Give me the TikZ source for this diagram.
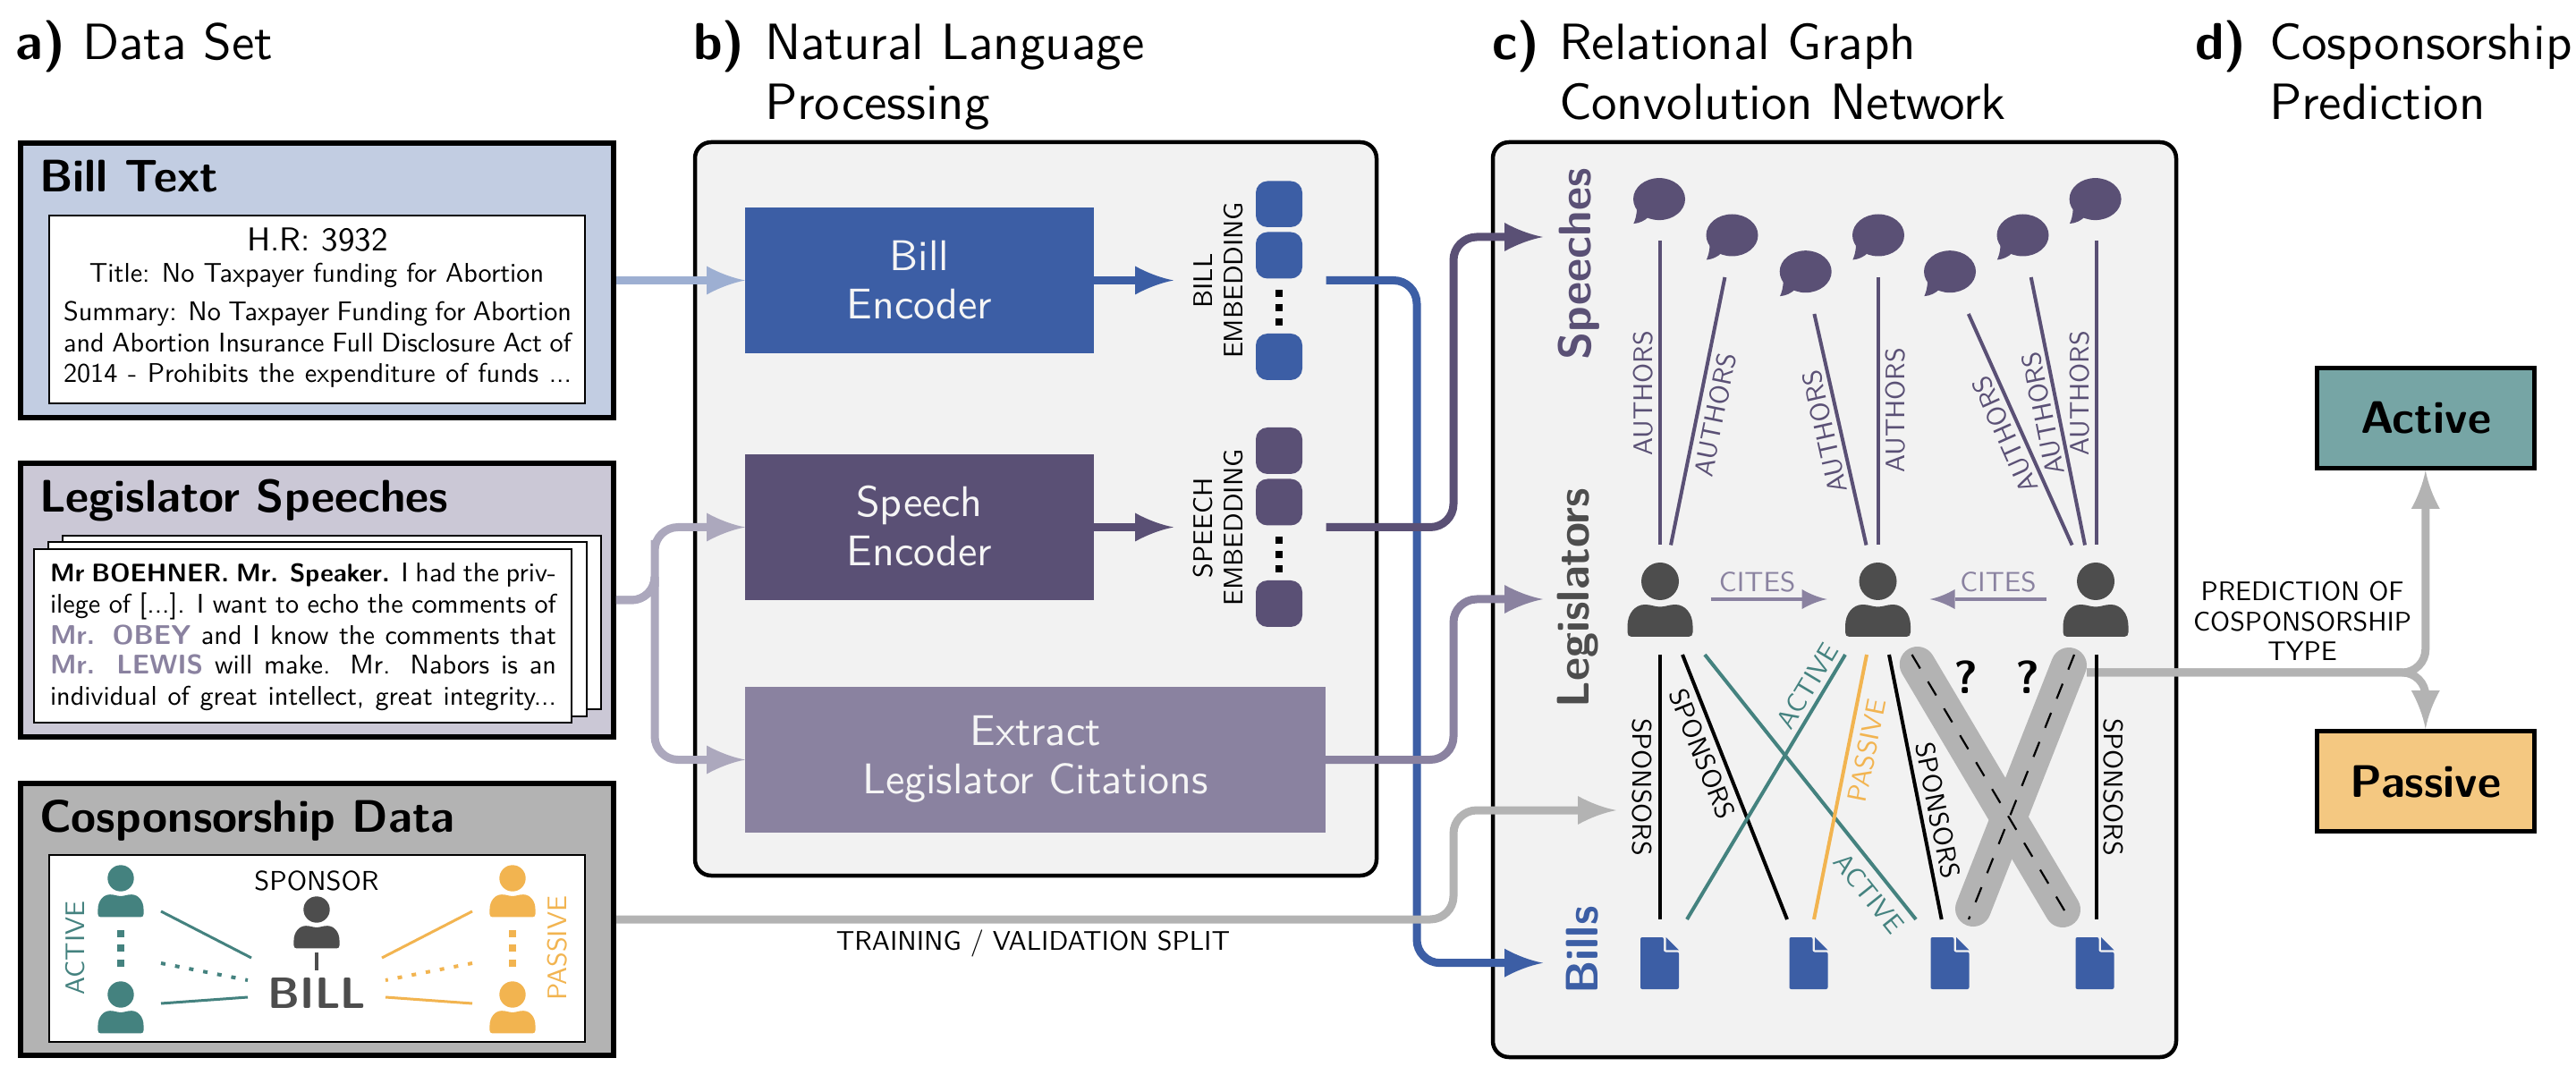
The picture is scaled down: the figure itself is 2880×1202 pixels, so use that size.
\documentclass[tikz,border=0pt]{standalone}
\usepackage{fontspec}
\setsansfont{lmsans10-regular.otf}[BoldFont=lmsans10-bold.otf]
\usetikzlibrary{arrows.meta}
\renewcommand{\familydefault}{\sfdefault}
\definecolor{cblue}{HTML}{3C5EA5}
\definecolor{cpurple}{HTML}{5A5075}
\definecolor{clav}{HTML}{8A82A0}
\definecolor{cgrey}{HTML}{B3B3B3}
\definecolor{cdark}{HTML}{4D4D4D}
\definecolor{cteal}{HTML}{44827F}
\definecolor{corange}{HTML}{F2B450}
\definecolor{cbillbg}{HTML}{C2CDE2}
\definecolor{cspeechbg}{HTML}{CBC8D6}
\definecolor{cpanel}{HTML}{F2F2F2}
\definecolor{carrowblue}{HTML}{9DAFD2}
\definecolor{carrowlav}{HTML}{ACA8BD}
\definecolor{cactivebg}{HTML}{76A5A5}
\definecolor{cpassivebg}{HTML}{F4C881}
\newcommand{\fpx}[1]{\fontsize{#1}{#1}\selectfont}
\newcommand{\declhead}[3]{%
\pgfdeclarearrow{
  name=#1,
  setup code={
    \pgfarrowssettipend{0pt}
    \pgfarrowssetlineend{-#2pt+2pt}
    \pgfarrowssetvisualbackend{-#2pt}
    \pgfarrowssetbackend{-#2pt}
    \pgfarrowshullpoint{0pt}{0pt}
    \pgfarrowshullpoint{-#2pt}{#3pt}
    \pgfarrowshullpoint{-#2pt}{-#3pt}
  },
  drawing code={
    \pgfsetdash{}{0pt}
    \pgfpathmoveto{\pgfqpoint{0pt}{0pt}}
    \pgfpathcurveto{\pgfpoint{-0.35*#2pt}{0.18*#3pt}}{\pgfpoint{-0.7*#2pt}{0.55*#3pt}}{\pgfpoint{-#2pt}{#3pt}}
    \pgfpathlineto{\pgfpoint{-#2pt}{-#3pt}}
    \pgfpathcurveto{\pgfpoint{-0.7*#2pt}{-0.55*#3pt}}{\pgfpoint{-0.35*#2pt}{-0.18*#3pt}}{\pgfqpoint{0pt}{0pt}}
    \pgfpathclose
    \pgfusepathqfill
  }
}}
\declhead{BigHead}{21.5}{8}
\declhead{SmallHead}{14}{5.5}
\tikzset{
  every node/.style={inner sep=0pt,outer sep=0pt},
  hdr/.style={font=\fpx{28.5},anchor=base west,align=left},
  hdrb/.style={font=\fpx{29}\bfseries,anchor=base west},
  outerbox/.style={draw=black,line width=2.75pt},
  innerbox/.style={draw=black,fill=white,line width=1.25pt},
  panelbox/.style={draw=black,fill=cpanel,line width=2.25pt,rounded corners=9pt},
  encbox/.style={fill=#1},
  boxtitle/.style={font=\fpx{25.5}\bfseries,anchor=base west},
  enctxt/.style={font=\fpx{24},text=white!96!black,anchor=base},
  bodytxt/.style={font=\fpx{15.1},anchor=base west},
  smalllab/.style={font=\fpx{15}},
  rowlab/.style={font=\fpx{25.5}\bfseries,rotate=90,anchor=base},
  flow/.style={draw=#1,line width=4.5pt,-{BigHead[]},rounded corners=13pt},
  plainflow/.style={draw=#1,line width=4.5pt,rounded corners=13pt},
  author/.style={draw=cpurple,line width=2pt},
  sponsor/.style={draw=black,line width=2pt},
  activeln/.style={draw=cteal,line width=2pt},
  passiveln/.style={draw=corange,line width=2pt},
  dashln/.style={draw=black,line width=1.1pt,dash pattern=on 9pt off 8.5pt},
  thickln/.style={draw=cgrey,line width=20pt,line cap=round},
  thinln/.style={draw=#1,line width=1.5pt},
  dotln/.style={draw=#1,line width=2pt,dash pattern=on 2.5pt off 5.5pt},
  citeln/.style={draw=clav,line width=2.25pt,-{SmallHead[]}},
  embed/.style={fill=#1,rounded corners=6.5pt},
}
\newcommand{\rectnode}[6]{%
  \pgfmathsetmacro\rw{(#5-#3)*0.5}\pgfmathsetmacro\rh{(#6-#4)*0.5}%
  \pgfmathsetmacro\rcx{(#3+#5)/2}\pgfmathsetmacro\rcy{(#4+#6)/2}%
  \node[#2,minimum width=\rw pt,minimum height=\rh pt] (#1) at (\rcx,\rcy) {};}
\newcommand{\personicon}[4]{%
  \begin{scope}[shift={(#1,#2)},scale=#3]
  \fill[#4] (0,0) circle [radius=21];
  \fill[#4] (-32,62) .. controls (-35,62) and (-36.5,60) .. (-36.5,57) -- (-36.5,50)
    .. controls (-36.5,36) and (-28,26) .. (-17,26)
    .. controls (-10,26) and (-6,28.5) .. (0,28.5)
    .. controls (6,28.5) and (10,26) .. (17,26)
    .. controls (28,26) and (36.5,36) .. (36.5,50) -- (36.5,57)
    .. controls (36.5,60) and (35,62) .. (32,62) -- cycle;
  \end{scope}}
\newcommand{\bubble}[2]{%
  \begin{scope}[shift={(#1,#2)}]
  \fill[cpurple] (0,0) ellipse [x radius=29,y radius=23.5];
  \fill[cpurple] (-25,10) .. controls (-25,18) and (-27,24) .. (-28.7,27.5)
     .. controls (-22,27) and (-16,24) .. (-12,20) -- cycle;
  \end{scope}}
\newcommand{\docicon}[2]{%
  \begin{scope}[shift={(#1,#2)}]
  \fill[cblue,rounded corners=1pt] (0,0) -- (26,0) -- (26,16.5) -- (43,16.5) -- (43,58) -- (0,58) -- cycle;
  \fill[cblue] (28.5,0) -- (43,14.3) -- (28.5,14.3) -- cycle;
  \end{scope}}
\newcommand{\sqdot}[3]{\fill[#3] (#1-4,#2-4) rectangle (#1+4,#2+4);}
\newcommand{\jline}[5]{\node[bodytxt] (#1) at (#2,#3) {\makebox[#4pt][s]{#5}};}
\newcommand{\link}[6]{%
  \coordinate (#1-a) at (#3,#4); \coordinate (#1-b) at (#5,#6);
  \draw[#2] (#1-a) -- (#1-b);}
\begin{document}
\begin{tikzpicture}[x=0.5pt,y=-0.5pt]
\useasboundingbox (0,0) rectangle (2880,1202);
% headers
\node[hdrb] (ha) at (18,66.5) {a)};
\node[hdr] (hat) at (92,66.5) {Data Set};
\node[hdrb] (hb) at (775,66.5) {b)};
\node[hdr] (hbt) at (855,66.5) {Natural Language};
\node[hdr] (hbt2) at (855,134) {Processing};
\node[hdrb] (hc) at (1668,66.5) {c)};
\node[hdr] (hct) at (1743,66.5) {Relational Graph};
\node[hdr] (hct2) at (1743,134) {Convolution Network};
\node[hdrb] (hd) at (2454,66.5) {d)};
\node[hdr] (hdt) at (2537,66.5) {Cosponsorship};
\node[hdr] (hdt2) at (2537,134) {Prediction};
% data set boxes
\rectnode{billbox}{outerbox,fill=cbillbg}{23}{160}{686}{467}
\node[boxtitle] (billtitle) at (44,215) {Bill Text};
\rectnode{billinner}{innerbox}{55}{241}{654}{451}
\node[font=\fpx{18.5},anchor=base] (hr) at (355,281) {H.R: 3932};
\node[bodytxt,anchor=base] (billname) at (354,316) {Title: No Taxpayer funding for Abortion};
\jline{sum1}{71}{359}{284}{Summary: No Taxpayer Funding for Abortion}
\jline{sum2}{71}{393.4}{284}{and Abortion Insurance Full Disclosure Act of}
\jline{sum3}{71}{428}{284}{2014 - Prohibits the expenditure of funds ...}
\rectnode{speechbox}{outerbox,fill=cspeechbg}{23}{518}{686}{824}
\node[boxtitle] (speechtitle) at (44,573) {Legislator Speeches};
\rectnode{stack3}{innerbox}{70}{599}{672}{793}
\rectnode{stack2}{innerbox}{54}{606}{656}{801}
\rectnode{stack1}{innerbox}{38}{614}{639}{808}
\jline{sp1}{56}{651}{283}{{\fpx{14.2}\bfseries Mr BOEHNER. Mr. Speaker.} I had the priv-}
\jline{sp2}{56}{686}{283}{ilege of [...]. I want to echo the comments of}
\jline{sp3}{56}{720}{283}{\textcolor{clav}{\textbf{Mr. OBEY}} and I know the comments that}
\jline{sp4}{56}{754}{283}{\textcolor{clav}{\textbf{Mr. LEWIS}} will make. Mr. Nabors is an}
\jline{sp5}{56}{788}{283}{individual of great intellect, great integrity...}
\rectnode{cosbox}{outerbox,fill=cgrey}{23}{876}{686}{1180}
\node[boxtitle] (costitle) at (44,930) {Cosponsorship Data};
\rectnode{cosinner}{innerbox}{55}{956}{654}{1165}
\personicon{135}{982}{0.7}{cteal}
\personicon{135}{1112}{0.7}{cteal}
\personicon{573}{982}{0.7}{corange}
\personicon{573}{1112}{0.7}{corange}
\personicon{354}{1017}{0.7}{cdark}
\sqdot{135}{1044}{cteal}\sqdot{135}{1060}{cteal}\sqdot{135}{1077}{cteal}
\sqdot{573}{1044}{corange}\sqdot{573}{1060}{corange}\sqdot{573}{1077}{corange}
\node[font=\fpx{15.2},anchor=base] (sponsorlab) at (354,995) {SPONSOR};
\node[font=\fpx{24.5}\bfseries,text=cdark,anchor=base] (billword) at (354.5,1127) {BILL};
\node[smalllab,text=cteal,rotate=90] (activelab) at (84,1060) {ACTIVE};
\node[smalllab,text=corange,rotate=90] (passivelab) at (623,1060) {PASSIVE};
\link{sb}{draw=cdark,line width=2pt}{354}{1065}{354}{1085}
\link{ta}{thinln=cteal}{180}{1019}{281}{1071}
\link{tb}{dotln=cteal}{180}{1077}{277}{1096}
\link{tc}{thinln=cteal}{180}{1122}{277}{1115}
\link{oa}{thinln=corange}{528}{1019}{427}{1071}
\link{ob}{dotln=corange}{528}{1077}{431}{1096}
\link{oc}{thinln=corange}{528}{1122}{431}{1115}
% panel b
\rectnode{panelb}{panelbox}{777}{159}{1539}{979}
\rectnode{billenc}{encbox=cblue}{833}{232}{1223}{395}
\rectnode{speechenc}{encbox=cpurple}{833}{508}{1223}{671}
\rectnode{extract}{encbox=clav}{833}{768}{1482}{931}
\node[enctxt] (bl1) at (1028,303) {Bill};
\node[enctxt] (bl2) at (1028,357) {Encoder};
\node[enctxt] (sl1) at (1028,578) {Speech};
\node[enctxt] (sl2) at (1028,633) {Encoder};
\node[enctxt] (el1) at (1157.5,833) {Extract};
\node[enctxt] (el2) at (1157.5,887) {Legislator Citations};
\node[smalllab,rotate=90] (be1) at (1345,314) {BILL};
\node[smalllab,rotate=90] (be2) at (1379,313.5) {EMBEDDING};
\node[smalllab,rotate=90] (se1) at (1345,590.5) {SPEECH};
\node[smalllab,rotate=90] (se2) at (1379,590) {EMBEDDING};
\rectnode{be-a}{embed=cblue}{1404}{202.5}{1456}{254}
\rectnode{be-b}{embed=cblue}{1404}{259.5}{1456}{311.5}
\rectnode{be-c}{embed=cblue}{1404}{373}{1456}{425}
\rectnode{se-a}{embed=cpurple}{1404}{478}{1456}{530}
\rectnode{se-b}{embed=cpurple}{1404}{535.5}{1456}{587.5}
\rectnode{se-c}{embed=cpurple}{1404}{649}{1456}{701}
\sqdot{1430}{328}{black}\sqdot{1430}{344}{black}\sqdot{1430}{360}{black}
\sqdot{1430}{604}{black}\sqdot{1430}{620}{black}\sqdot{1430}{636}{black}
% panel c
\rectnode{panelc}{panelbox}{1669}{159}{2433}{1182}
\node[rowlab,text=cpurple] (rowsp) at (1778,295.5) {Speeches};
\node[rowlab,text=cdark] (rowlg) at (1776,668.5) {Legislators};
\node[rowlab,text=cblue] (rowbl) at (1786,1062.5) {Bills};
\bubble{1855}{222.6}\bubble{1936.5}{263}\bubble{2018.7}{303.7}\bubble{2100}{263}
\bubble{2180}{303.7}\bubble{2261.5}{263}\bubble{2342.6}{222.6}
\personicon{1856}{650}{1}{cdark}
\personicon{2099.5}{650}{1}{cdark}
\personicon{2343}{650}{1}{cdark}
\docicon{1834}{1048}\docicon{2000.5}{1048}\docicon{2158.5}{1048}\docicon{2320.5}{1048}
% prediction
\rectnode{active}{outerbox,line width=2.5pt,fill=cactivebg}{2590.5}{411.5}{2833}{523.5}
\rectnode{passive}{outerbox,line width=2.5pt,fill=cpassivebg}{2590.5}{817.5}{2833}{929.5}
\node[font=\fpx{25.5}\bfseries,anchor=base] (actlab) at (2712,485) {Active};
\node[font=\fpx{25.5}\bfseries,anchor=base] (paslab) at (2712,891) {Passive};
\node[font=\fpx{15},anchor=base] (pl1) at (2574,672) {PREDICTION OF};
\node[font=\fpx{15},anchor=base] (pl2) at (2574,706) {COSPONSORSHIP};
\node[font=\fpx{15},anchor=base] (pl3) at (2574,739) {TYPE};
% arrows between stages
\coordinate (split) at (732,630);
\coordinate (bill-embed-in) at (1312,313.5);
\coordinate (speech-embed-in) at (1312,589.5);
\coordinate (billout) at (1482.5,313.5);
\coordinate (speechout) at (1482.5,589.5);
\coordinate (billbus) at (1584,700);
\coordinate (speechbus) at (1625,430);
\coordinate (extractbus) at (1625,760);
\coordinate (cosbus) at (1625,960);
\coordinate (billsin) at (1725,1076.7);
\coordinate (speechesin) at (1725,265);
\coordinate (legin) at (1725,670);
\coordinate (spon-in) at (1807,906);
\coordinate (predict) at (2333,752);
\draw[flow=carrowblue,shorten <=1.4pt] (billbox.east) -- (billenc.west);
\draw[flow=carrowlav,shorten <=1.4pt] (speechbox.east) -| (split) |- (speechenc.west);
\draw[flow=carrowlav,shorten <=1.4pt] (speechbox.east) -| (split) |- (extract.west);
\draw[flow=cblue] (billenc.east) -- (bill-embed-in);
\draw[flow=cpurple] (speechenc.east) -- (speech-embed-in);
\draw[flow=cblue] (billout) -| (billbus) |- (billsin);
\draw[flow=clav] (extract.east) -| (extractbus) |- (legin);
\draw[flow=cpurple] (speechout) -| (speechbus) |- (speechesin);
\draw[flow=cgrey,shorten <=1.4pt] (cosbox.east) -| (cosbus) |- (spon-in);
\node[font=\fpx{15.1},anchor=base] (splitlab) at (1155,1062) {TRAINING / VALIDATION SPLIT};
% graph lines
\link{tk1}{thickln}{2143.7}{743}{2306}{1017}
\link{tk2}{thickln}{2313}{744}{2206}{1016}
\draw[plainflow=cgrey,-{BigHead[]},shorten >=1.25pt] (predict) -| (active.south);
\draw[plainflow=cgrey,-{BigHead[]},shorten >=1.25pt] (predict) -| (passive.north);
\link{dk1}{dashln}{2137.5}{732}{2314}{1028}
\link{dk2}{dashln}{2319}{732}{2201}{1028}
\link{au1}{author}{1856}{269}{1856}{609.5}
\link{au2}{author}{1928.4}{310}{1868}{609.5}
\link{au3}{author}{2028.4}{351}{2086.5}{609.5}
\link{au4}{author}{2100}{310}{2100}{609.5}
\link{au5}{author}{2200.8}{351}{2316.6}{609.5}
\link{au6}{author}{2270.7}{310}{2331}{609.5}
\link{au7}{author}{2343.7}{269}{2343.7}{609.5}
\node[smalllab,text=cpurple,rotate=90] (al1) at (1837.5,440) {AUTHORS};
\node[smalllab,text=cpurple,rotate=78.6] (al2) at (1917.6,464) {AUTHORS};
\node[smalllab,text=cpurple,rotate=102.7] (al3) at (2040,483) {AUTHORS};
\node[smalllab,text=cpurple,rotate=90] (al4) at (2119,459) {AUTHORS};
\node[smalllab,text=cpurple,rotate=114.1] (al5) at (2241.6,486) {AUTHORS};
\node[smalllab,text=cpurple,rotate=101.4] (al6) at (2284,462.5) {AUTHORS};
\node[smalllab,text=cpurple,rotate=90] (al7) at (2325,440) {AUTHORS};
\link{ci1}{citeln}{1912.5}{670}{2042.6}{670}
\link{ci2}{citeln}{2287.5}{670}{2157.5}{670}
\node[font=\fpx{15.5},text=clav] (cl1) at (1964.6,651) {CITES};
\node[font=\fpx{15.5},text=clav] (cl2) at (2234,651) {CITES};
\link{sp-a}{sponsor}{1856}{732}{1856}{1028}
\link{sp-b}{sponsor}{1881}{732}{1998}{1028}
\link{ac-a}{activeln}{1906}{732}{2142}{1028}
\link{ac-b}{activeln}{2063}{732}{1886}{1028}
\link{pa-a}{passiveln}{2087}{732}{2028}{1028}
\link{sp-c}{sponsor}{2112}{732}{2170.7}{1028}
\link{sp-d}{sponsor}{2343.7}{732}{2343.7}{1028}
\node[smalllab,rotate=-90] (sl-a) at (1835.5,880) {SPONSORS};
\node[smalllab,rotate=-68.4] (sl-b) at (1903.4,843) {SPONSORS};
\node[smalllab,rotate=-78.8] (sl-c) at (2166.6,906) {SPONSORS};
\node[smalllab,rotate=-90] (sl-d) at (2362.6,880) {SPONSORS};
\node[smalllab,text=cteal,rotate=59] (act-a) at (2021,767) {ACTIVE};
\node[smalllab,text=cteal,rotate=-51.4] (act-b) at (2089.6,999) {ACTIVE};
\node[smalllab,text=corange,rotate=78.7] (pas-a) at (2087,839) {PASSIVE};
\node[font=\fpx{26}\bfseries] (q1) at (2198,757) {?};
\node[font=\fpx{26}\bfseries] (q2) at (2267,757) {?};
\end{tikzpicture}
\end{document}
